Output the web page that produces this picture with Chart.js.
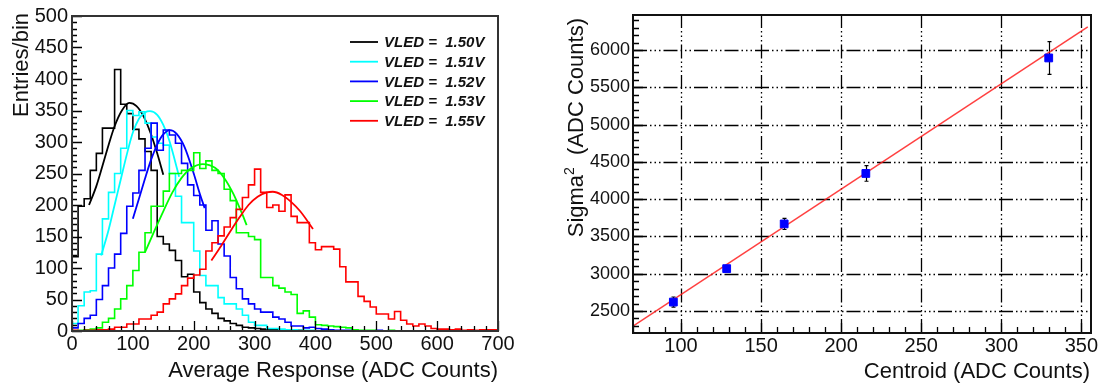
<!DOCTYPE html>
<html>
<head>
<meta charset="utf-8">
<script src="https://cdn.jsdelivr.net/npm/chart.js@4.4.1/dist/chart.umd.min.js"></script>
<style>
  html, body { margin: 0; padding: 0; background: #fff; }
  #wrap { position: relative; width: 1103px; height: 385px; }
  #hist { position: absolute; left: 0; top: 0; }
  #fit { position: absolute; left: 540px; top: 0; }
</style>
</head>
<body>
<div id="wrap">
  <canvas id="hist" width="540" height="385"></canvas>
  <canvas id="fit" width="563" height="385"></canvas>
</div>
<script>
// ---- left panel: LED response histograms (10 ADC bins, 0..700) ----
const BIN_WIDTH = 10;
const LED_LABELS = ['VLED =  1.50V', 'VLED =  1.51V', 'VLED =  1.52V', 'VLED =  1.53V', 'VLED =  1.55V'];
const LED_COLORS = ['#000000', '#00ffff', '#0000ff', '#00ff00', '#ff0000'];

const HIST_150 = [
  92,118,198,210,255,282,322,322,415,360,
  345,320,305,285,255,150,138,128,112,86,
  90,62,45,35,28,20,16,12,9,6,
  5,4,3,2,2,1,1,0,1,0,
  0,0,0,0,0,0,0,0,0,0,
  0,0,0,0,0,0,0,0,0,0,
  0,0,0,0,0,0,0,0,0,0];
const HIST_151 = [
  3,12,40,62,64,122,178,220,250,290,
  350,342,348,330,308,298,295,250,214,172,
  172,127,88,72,72,53,43,43,35,25,
  14,9,9,4,4,3,2,2,1,1,
  1,0,1,0,0,0,0,0,0,0,
  0,0,0,0,0,0,0,0,0,0,
  0,0,0,0,0,0,0,0,0,0];
const HIST_152 = [
  2,5,12,20,25,50,72,100,122,155,
  198,219,255,290,330,287,319,311,298,266,
  232,215,200,160,175,138,119,85,67,51,
  43,35,30,30,22,19,14,8,8,5,
  6,4,3,2,1,1,1,1,0,0,
  0,1,0,0,0,0,0,0,0,0,
  0,0,0,0,0,0,0,0,0,0];
const HIST_153 = [
  0,0,1,2,3,5,14,20,35,51,
  72,96,125,156,198,198,222,250,250,255,
  255,283,258,270,255,250,225,207,156,156,
  150,145,85,85,72,68,62,58,28,32,
  22,10,9,8,7,6,5,2,1,1,
  1,0,0,1,0,0,0,0,0,0,
  0,0,0,0,0,0,0,0,0,0];
const HIST_155 = [
  0,1,0,1,1,2,2,3,6,6,
  11,11,19,19,25,30,43,51,59,72,
  84,89,98,127,140,151,165,180,193,212,
  232,257,220,196,200,190,216,182,172,172,
  140,129,134,134,130,102,78,78,55,47,
  38,27,27,19,31,17,11,8,11,8,
  4,3,3,2,3,1,2,1,2,2];
const HISTS = [HIST_150, HIST_151, HIST_152, HIST_153, HIST_155];

// gaussian fit curves as (x, entries) pairs
const FIT_150 = [[28,200],[40,230],[50,262],[60,295],[70,325],[82,350],[94,362],[106,357],[118,340],[130,312],[140,282],[150,248]];
const FIT_151 = [[48,120],[60,160],[70,200],[80,240],[90,280],[100,315],[110,337],[120,347],[128,349],[140,343],[150,327],[160,302],[176,245]];
const FIT_152 = [[100,178],[110,210],[120,242],[130,272],[140,296],[150,312],[161,319],[172,313],[185,292],[200,250],[210,218],[218,195]];
const FIT_153 = [[120,125],[135,158],[150,190],[165,220],[180,243],[195,258],[215,265],[235,259],[250,243],[265,218],[280,185],[287,168]];
const FIT_155 = [[229,112],[245,135],[260,158],[275,180],[290,200],[305,213],[320,220],[330,221],[345,216],[360,205],[375,190],[396,162]];
const FITS = [FIT_150, FIT_151, FIT_152, FIT_153, FIT_155];

const HIST_X_TICKS = [0,100,200,300,400,500,600,700];
const HIST_Y_TICKS = [0,50,100,150,200,250,300,350,400,450,500];

// ---- right panel: sigma^2 vs centroid ----
const CENTROID = [95.2, 128.5, 164.4, 215.4, 329.6];
const SIGMA2 = [2620, 3068, 3668, 4345, 5894];
const SIGMA2_ERR = [68, 30, 75, 105, 220];
const LINE_X = [70, 354];
const LINE_Y = [2297, 6310];
const FIT_X_TICKS = [100,150,200,250,300,350];
const FIT_Y_TICKS = [2500,3000,3500,4000,4500,5000,5500,6000];

const FONT = '"Liberation Sans", Arial, Helvetica, sans-serif';
Chart.defaults.font.family = FONT;
Chart.defaults.color = '#111';

const fixedTicks = list => scale => { scale.ticks = list.map(v => ({value: v})); };
const plain = v => String(v);

// frame + ROOT style inner ticks (and optional dash-dot grid)
function rootAxes(id, o) {
  return {
    id,
    beforeDatasetsDraw(chart) {
      if (!o.grid) return;
      const {ctx, chartArea: a, scales: {x, y}} = chart;
      ctx.save();
      ctx.strokeStyle = '#000';
      ctx.lineWidth = 1.3;
      ctx.setLineDash([14, 3, 1.5, 3, 1.5, 3, 1.5, 3]);
      ctx.beginPath();
      o.xMajor.forEach(v => {
        const px = Math.round(x.getPixelForValue(v)) + 0.5;
        ctx.moveTo(px, a.bottom); ctx.lineTo(px, a.top);
      });
      o.yMajor.forEach(v => {
        const py = Math.round(y.getPixelForValue(v)) + 0.5;
        ctx.moveTo(a.left, py); ctx.lineTo(a.right, py);
      });
      ctx.stroke();
      ctx.restore();
      if (o.errors) o.errors(chart);
    },
    afterDatasetsDraw(chart) {
      const {ctx, chartArea: a, scales: {x, y}} = chart;
      ctx.save();
      ctx.strokeStyle = '#000';
      ctx.lineWidth = 1.3;
      ctx.beginPath();
      for (let v = Math.ceil(x.min / o.xMinor) * o.xMinor; v <= x.max; v += o.xMinor) {
        const px = Math.round(x.getPixelForValue(v)) + 0.5;
        const len = v % o.xMajorStep === 0 ? o.majorLen : o.minorLen;
        ctx.moveTo(px, a.bottom); ctx.lineTo(px, a.bottom - len);
      }
      for (let v = Math.ceil(y.min / o.yMinor) * o.yMinor; v <= y.max; v += o.yMinor) {
        const py = Math.round(y.getPixelForValue(v)) + 0.5;
        const len = v % o.yMajorStep === 0 ? o.majorLen : o.minorLen;
        ctx.moveTo(a.left, py); ctx.lineTo(a.left + len, py);
      }
      ctx.stroke();
      ctx.lineWidth = 2;
      ctx.strokeStyle = o.frame;
      ctx.strokeRect(a.left, a.top, a.right - a.left, a.bottom - a.top);
      ctx.restore();
    },
    afterDraw(chart) {
      if (o.texts) o.texts(chart.ctx);
    }
  };
}

function rotatedRight(ctx, parts, baseX, endY) {
  // parts: [text, font, raise]; right-aligned at endY, reading bottom to top
  ctx.save();
  ctx.translate(baseX, endY);
  ctx.rotate(-Math.PI / 2);
  let w = 0;
  parts.forEach(p => { ctx.font = p[1]; w += ctx.measureText(p[0]).width; });
  let cx = -w;
  parts.forEach(p => {
    ctx.font = p[1];
    ctx.fillText(p[0], cx, -p[2]);
    cx += ctx.measureText(p[0]).width;
  });
  ctx.restore();
}

// ---- left chart ----
const histSets = [];
HISTS.forEach((h, i) => {
  const pts = h.map((v, k) => ({x: k * BIN_WIDTH, y: v}));
  pts.push({x: h.length * BIN_WIDTH, y: h[h.length - 1]});
  histSets.push({label: LED_LABELS[i], data: pts, borderColor: LED_COLORS[i], borderWidth: 1.6,
    stepped: 'after', pointRadius: 0, fill: false, order: 20 - 2 * i});
  histSets.push({label: LED_LABELS[i] + ' fit', data: FITS[i].map(p => ({x: p[0], y: p[1]})),
    borderColor: LED_COLORS[i], borderWidth: 1.8, pointRadius: 0, fill: false,
    cubicInterpolationMode: 'monotone', order: 19 - 2 * i});
});

new Chart(document.getElementById('hist'), {
  type: 'line',
  data: {datasets: histSets},
  options: {
    responsive: false, animation: false,
    layout: {padding: {top: 14, right: 42, left: 0, bottom: 0}},
    plugins: {legend: {display: false}, tooltip: {enabled: false}},
    scales: {
      x: {type: 'linear', min: 0, max: 700, afterBuildTicks: fixedTicks(HIST_X_TICKS),
        grid: {display: false, drawTicks: false}, border: {display: false},
        ticks: {padding: 1, font: {size: 20}, maxRotation: 0, autoSkip: false, callback: plain},
        afterFit: s => { s.height = 54; }},
      y: {type: 'linear', min: 0, max: 500, afterBuildTicks: fixedTicks(HIST_Y_TICKS),
        grid: {display: false, drawTicks: false}, border: {display: false},
        ticks: {padding: 4, font: {size: 20}, autoSkip: false, callback: plain},
        afterFit: s => { s.width = 72; }}
    }
  },
  plugins: [rootAxes('histAxes', {
    xMinor: 20, xMajorStep: 100, yMinor: 10, yMajorStep: 50, majorLen: 10, minorLen: 5,
    frame: '#333',
    texts(ctx) {
      ctx.save();
      ctx.fillStyle = '#111';
      ctx.textBaseline = 'alphabetic';
      ctx.font = '22px ' + FONT;
      ctx.textAlign = 'right';
      ctx.fillText('Average Response (ADC Counts)', 498, 377);
      ctx.textAlign = 'left';
      rotatedRight(ctx, [['Entries/bin', '22px ' + FONT, 0]], 28, 13);
      // legend
      ctx.font = 'italic bold 15px ' + FONT;
      ctx.textBaseline = 'middle';
      LED_LABELS.forEach((t, i) => {
        const ly = 42 + i * 19.7;
        ctx.strokeStyle = LED_COLORS[i];
        ctx.lineWidth = 1.8;
        ctx.beginPath(); ctx.moveTo(350, ly); ctx.lineTo(378, ly); ctx.stroke();
        ctx.fillStyle = '#111';
        ctx.fillText(t, 384, ly + 1);
      });
      ctx.restore();
    }
  })]
});

// ---- right chart ----
new Chart(document.getElementById('fit'), {
  type: 'scatter',
  data: {datasets: [
    {type: 'line', label: 'linear fit', data: LINE_X.map((x, i) => ({x, y: LINE_Y[i]})),
      borderColor: 'rgba(255,30,30,0.85)', borderWidth: 1.5, pointRadius: 0, fill: false, order: 2},
    {label: 'sigma2', data: CENTROID.map((x, i) => ({x, y: SIGMA2[i]})),
      backgroundColor: '#0000ff', borderColor: '#0000ff', pointStyle: 'rect', pointRadius: 5.5, order: 1}
  ]},
  options: {
    responsive: false, animation: false,
    layout: {padding: {top: 15, right: 12, left: 0, bottom: 0}},
    plugins: {legend: {display: false}, tooltip: {enabled: false}},
    scales: {
      x: {type: 'linear', min: 70, max: 356, afterBuildTicks: fixedTicks(FIT_X_TICKS),
        grid: {display: false, drawTicks: false}, border: {display: false},
        ticks: {padding: 1, font: {size: 20}, maxRotation: 0, autoSkip: false, callback: plain},
        afterFit: s => { s.height = 52; }},
      y: {type: 'linear', min: 2205, max: 6470, afterBuildTicks: fixedTicks(FIT_Y_TICKS),
        grid: {display: false, drawTicks: false}, border: {display: false},
        ticks: {padding: 3, font: {size: 18}, autoSkip: false, callback: plain},
        afterFit: s => { s.width = 93; }}
    }
  },
  plugins: [rootAxes('fitAxes', {
    xMinor: 10, xMajorStep: 50, yMinor: 100, yMajorStep: 500, majorLen: 10, minorLen: 6,
    frame: '#111', grid: true, xMajor: FIT_X_TICKS, yMajor: FIT_Y_TICKS,
    errors(chart) {
      const {ctx, scales: {x, y}} = chart;
      ctx.save();
      ctx.strokeStyle = '#000';
      ctx.lineWidth = 1.2;
      ctx.beginPath();
      CENTROID.forEach((c, i) => {
        const px = Math.round(x.getPixelForValue(c)) + 0.5;
        const hi = y.getPixelForValue(SIGMA2[i] + SIGMA2_ERR[i]);
        const lo = y.getPixelForValue(SIGMA2[i] - SIGMA2_ERR[i]);
        ctx.moveTo(px, hi); ctx.lineTo(px, lo);
        ctx.moveTo(px - 2, hi); ctx.lineTo(px + 2, hi);
        ctx.moveTo(px - 2, lo); ctx.lineTo(px + 2, lo);
      });
      ctx.stroke();
      ctx.restore();
    },
    texts(ctx) {
      ctx.save();
      ctx.fillStyle = '#111';
      ctx.textBaseline = 'alphabetic';
      ctx.font = '22px ' + FONT;
      ctx.textAlign = 'right';
      ctx.fillText('Centroid (ADC Counts)', 550, 378);
      ctx.textAlign = 'left';
      rotatedRight(ctx, [['Sigma', '22px ' + FONT, 0], ['2', '14px ' + FONT, 9], ['  (ADC Counts)', '22px ' + FONT, 0]], 43, 18);
      ctx.restore();
    }
  })]
});
</script>
</body>
</html>
